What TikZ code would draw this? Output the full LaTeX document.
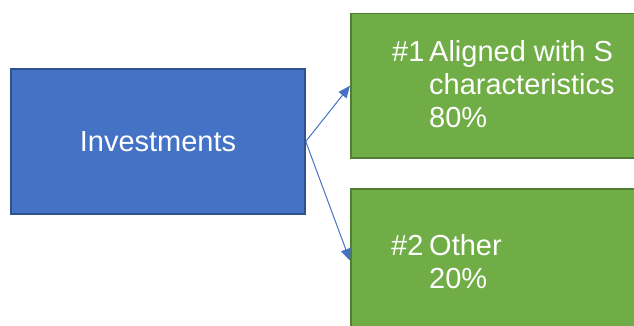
\documentclass[tikz,border=0pt]{standalone}
\usepackage{fontspec}
\setmainfont{Liberation Sans}
\usetikzlibrary{arrows.meta}
\definecolor{invblue}{HTML}{4472C4}
\definecolor{invblueline}{HTML}{2F528F}
\definecolor{catgreen}{HTML}{70AD47}
\definecolor{catgreenline}{HTML}{507E32}
\begin{document}
\begin{tikzpicture}[x=1pt, y=-1pt, font=\fontsize{29}{33}\selectfont,
  box/.style={rectangle, line width=1.5pt, inner sep=0pt, text=white},
  bluebox/.style={box, fill=invblue, draw=invblueline, minimum width=294pt, minimum height=145pt},
  greenbox/.style={box, fill=catgreen, draw=catgreenline, minimum width=320pt, minimum height=144pt},
  catlabel/.style={anchor=base west, inner sep=0pt, text=white},
  link/.style={draw=invblue, line width=1pt, -{Triangle[length=12pt,width=10pt]}}]
\useasboundingbox (0,0) rectangle (634,326);
% boxes
\node[bluebox] (invest) at (158,141.5) {Investments};
\node[greenbox, anchor=north west] (aligned) at (350,13) {};
\node[greenbox, anchor=north west] (other) at (350,188) {};
% category texts, hanging indent after the number
\node[catlabel] (alignedtxt) at (392,62) {\begin{tabular}[t]{@{}l@{}l@{}}\makebox[37pt][l]{\#1}&Aligned with S\\&characteristics\\&80\%\end{tabular}};
\node[catlabel] (othertxt) at (391,255) {\begin{tabular}[t]{@{}l@{}l@{}}\makebox[38pt][l]{\#2}&Other\\&20\%\end{tabular}};
% connectors
\draw[link] (invest.east) -- (aligned.west);
\draw[link] (invest.east) -- (other.west);
\end{tikzpicture}
\end{document}
